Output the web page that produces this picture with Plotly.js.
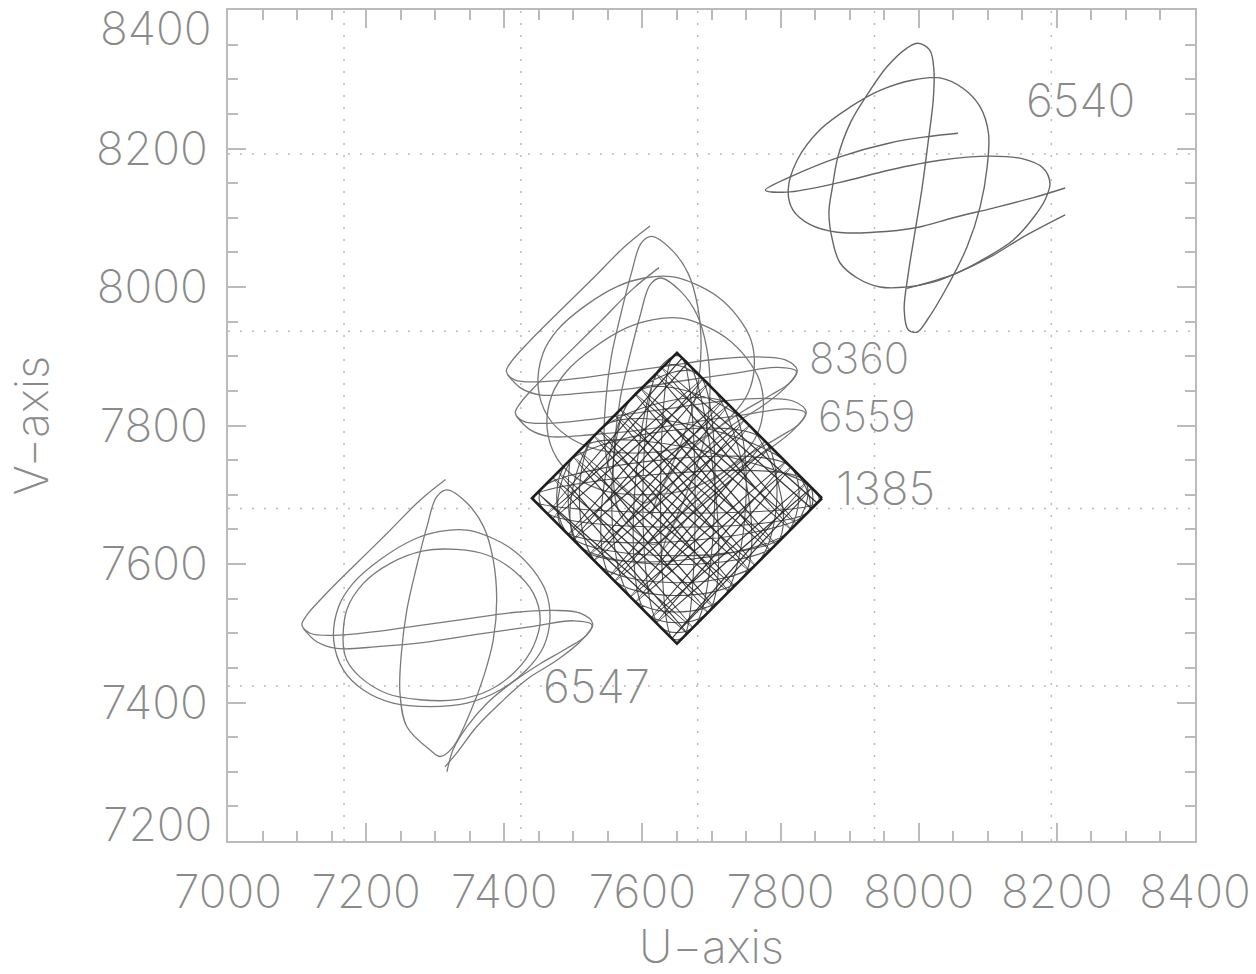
<!DOCTYPE html>
<html>
<head>
<meta charset="utf-8">
<script src="https://cdn.plot.ly/plotly-3.0.1.min.js"></script>
<style>html,body{margin:0;padding:0;background:#fff;}#chart{width:1256px;height:974px;}</style>
</head>
<body>
<div id="chart"></div>
<script>
// ---- axis ticks and grid (data units) ----
const xTicks = [7000, 7200, 7400, 7600, 7800, 8000, 8200, 8400];
const yTicks = [7200, 7400, 7600, 7800, 8000, 8200, 8400];
const gridU = [7168, 7424, 7680, 7936, 8192];
const gridV = [7424, 7680, 7936, 8192];

// ---- orbit 6540 ----
const u6540a = [8212,8151,8103,8055,8021,7983,7944,7911,7886,7875,7870,7875,7883,7901,7925,7954,7983,7999,8016,8022,8021,8014,8005,7995,7985,7979,7985,7998,8012,8041,8070,8089,8099,8101,8089,8064,8031,7992,7944,7901,7857,7824,7811,7818,7843,7882,7934,7998,8050,8108,8166,8212];
const v6540a = [8104,8072,8043,8020,8007,8000,8000,8013,8035,8068,8107,8144,8188,8237,8277,8318,8345,8352,8342,8313,8270,8212,8144,8082,8020,7967,7938,7935,7952,8000,8058,8116,8173,8222,8260,8287,8302,8299,8284,8260,8227,8183,8140,8111,8090,8079,8079,8086,8100,8114,8129,8143];
const u6540b = [8057,8012,7958,7886,7814,7778,7809,7886,7958,8031,8103,8151,8180,8190,8183,8166,8137,8097,8055,7983];
const v6540b = [8222,8217,8208,8188,8159,8140,8137,8151,8169,8183,8189,8185,8172,8150,8126,8100,8068,8042,8020,7998];

// ---- orbit 6547 ----
const u6547a = [7315,7278,7230,7181,7138,7114,7107,7119,7153,7210,7268,7341,7413,7471,7510,7528,7519,7490,7452,7413,7375,7346,7326,7317];
const v6547a = [7722,7692,7644,7596,7553,7526,7512,7500,7497,7502,7510,7520,7530,7533,7529,7514,7497,7478,7456,7430,7399,7365,7332,7300];
const u6547b = [7153,7160,7181,7220,7268,7307,7346,7379,7413,7442,7461,7466,7457,7432,7394,7346,7293,7239,7196,7167,7153];
const v6547b = [7490,7538,7572,7606,7635,7647,7649,7639,7620,7591,7558,7519,7481,7447,7418,7399,7394,7399,7418,7447,7490];
const u6547c = [7317,7346,7370,7384,7389,7384,7370,7350,7326,7307,7293,7259,7249,7251,7259,7273,7288,7302,7317];
const v6547c = [7707,7688,7654,7606,7548,7490,7437,7384,7336,7322,7331,7365,7413,7471,7534,7596,7654,7697,7707];
const u6547d = [7109,7128,7157,7220,7293,7365,7442,7500,7527,7510,7476,7432,7394,7360,7331,7314];
const v6547d = [7507,7488,7478,7481,7488,7499,7510,7518,7512,7488,7461,7433,7399,7365,7327,7307];
const u6547f = [7167,7172,7196,7235,7283,7331,7375,7413,7442,7452,7442,7418,7379,7331,7278,7230,7191,7172,7167];
const v6547f = [7481,7534,7572,7601,7619,7621,7613,7591,7558,7519,7481,7447,7418,7404,7404,7413,7437,7461,7481];

// ---- orbit 8360 ----
const u8360a = [7611,7574,7526,7477,7434,7410,7403,7415,7449,7506,7564,7637,7709,7767,7806,7824,7815,7786,7748,7709,7671,7642,7622,7613];
const v8360a = [8088,8058,8010,7962,7919,7892,7878,7866,7863,7868,7876,7886,7896,7899,7895,7880,7863,7844,7822,7796,7765,7731,7698,7666];
const u8360b = [7449,7456,7477,7516,7564,7603,7642,7675,7709,7738,7757,7762,7753,7728,7690,7642,7589,7535,7492,7463,7449];
const v8360b = [7856,7904,7938,7972,8001,8013,8015,8005,7986,7957,7924,7885,7847,7813,7784,7765,7760,7765,7784,7813,7856];
const u8360c = [7613,7642,7666,7680,7685,7680,7666,7646,7622,7603,7589,7555,7545,7547,7555,7569,7584,7598,7613];
const v8360c = [8073,8054,8020,7972,7914,7856,7803,7750,7702,7688,7697,7731,7779,7837,7900,7962,8020,8063,8073];
const u8360d = [7405,7424,7453,7516,7589,7661,7738,7796,7823,7806,7772,7728,7690,7656,7627,7610];
const v8360d = [7873,7854,7844,7847,7854,7865,7876,7884,7878,7854,7827,7799,7765,7731,7693,7673];

// ---- orbit 6559 ----
const u6559a = [7624,7587,7539,7490,7447,7423,7416,7428,7462,7519,7577,7650,7722,7780,7819,7837,7828,7799,7761,7722,7684,7655,7635,7626];
const v6559a = [8028,7998,7950,7902,7859,7832,7818,7806,7803,7808,7816,7826,7836,7839,7835,7820,7803,7784,7762,7736,7705,7671,7638,7606];
const u6559b = [7462,7469,7490,7529,7577,7616,7655,7688,7722,7751,7770,7775,7766,7741,7703,7655,7602,7548,7505,7476,7462];
const v6559b = [7796,7844,7878,7912,7941,7953,7955,7945,7926,7897,7864,7825,7787,7753,7724,7705,7700,7705,7724,7753,7796];
const u6559c = [7626,7655,7679,7693,7698,7693,7679,7659,7635,7616,7602,7568,7558,7560,7568,7582,7597,7611,7626];
const v6559c = [8013,7994,7960,7912,7854,7796,7743,7690,7642,7628,7637,7671,7719,7777,7840,7902,7960,8003,8013];
const u6559d = [7418,7437,7466,7529,7602,7674,7751,7809,7836,7819,7785,7741,7703,7669,7640,7623];
const v6559d = [7813,7794,7784,7787,7794,7805,7816,7824,7818,7794,7767,7739,7705,7671,7633,7613];

// ---- orbit 1385 (diamond) ----
const u1385edge = [7860,7650,7440,7650,7860];
const v1385edge = [7695,7905,7695,7485,7695];
const u1385a = [7845,7840,7460,7455, 7815,7805,7495,7490, 7775,7765,7535,7530, 7725,7715,7585,7580, 7680,7675,7625,7620, 7655,7660,7643,7645, 7670,7695,7605,7630, 7705,7745,7555,7595, 7755,7795,7505,7545, 7805,7840,7485,7515, 7840,7855,7445,7445, 7835,7810,7515,7495];
const v1385a = [7710,7675,7675,7710, 7740,7640,7640,7745, 7780,7600,7600,7785, 7830,7550,7550,7835, 7875,7510,7510,7875, 7900,7495,7493,7900, 7885,7530,7530,7885, 7850,7580,7580,7850, 7800,7630,7630,7800, 7750,7675,7650,7770, 7715,7690,7690,7700, 7720,7645,7620,7750];
const u1385zA = [7658,7463,7688,7493,7718,7523,7748,7553,7778,7583,7808,7613,7838,7643,7845,7620,7815,7590,7785,7560,7755,7530,7725,7500,7695,7470,7665];
const v1385zA = [7898,7673,7868,7643,7838,7613,7808,7583,7778,7553,7748,7523,7718,7493,7710,7515,7740,7545,7770,7575,7800,7605,7830,7635,7860,7665,7890];
const u1385zB = [7853,7628,7823,7598,7793,7568,7763,7538,7733,7508,7703,7478,7673,7448,7665,7470,7695,7500,7725,7530,7755,7560,7785,7590,7815,7620,7845];
const v1385zB = [7688,7883,7658,7853,7628,7823,7598,7793,7568,7763,7538,7733,7508,7703,7500,7725,7530,7755,7560,7785,7590,7815,7620,7845,7650,7875,7680];

// ---- orbit labels ----
const labelText = ['6540', '8360', '6559', '1385', '6547'];
const labelU = [8154, 7840, 7853, 7879, 7455];
const labelV = [8270, 7892, 7822, 7710, 7424];

function joinSegs(segs) {
  const out = [];
  segs.forEach((s, i) => { if (i) out.push(null); s.forEach(v => out.push(v)); });
  return out;
}

const FONT = 'Inter, "DejaVu Sans", sans-serif';
const FW = 200;
const FS = 46;
const TXT = '#8a8a8a';
const tf = (size) => ({family: FONT, size: size || FS, color: TXT, weight: FW});

function orbit(us, vs, color, width, shape, smooth) {
  return {
    type: 'scatter', mode: 'lines',
    x: joinSegs(us), y: joinSegs(vs),
    line: {color: color, width: width, shape: shape || 'spline', smoothing: smooth === undefined ? 1 : smooth},
    connectgaps: false, hoverinfo: 'skip'
  };
}

const traces = [
  orbit([u6547a, u6547b, u6547c, u6547d, u6547f], [v6547a, v6547b, v6547c, v6547d, v6547f], '#7a7a7a', 1.3),
  orbit([u6540a, u6540b], [v6540a, v6540b], '#666', 1.4),
  orbit([u8360a, u8360b, u8360c, u8360d], [v8360a, v8360b, v8360c, v8360d], '#777', 1.3),
  orbit([u6559a, u6559b, u6559c, u6559d], [v6559a, v6559b, v6559c, v6559d], '#777', 1.3),
  orbit([u1385a], [v1385a], 'rgba(45,45,45,0.8)', 1.1),
  orbit([u1385zA, u1385zB], [v1385zA, v1385zB], 'rgba(35,35,35,0.9)', 1.3, 'spline', 0.35),
  orbit([u1385edge], [v1385edge], '#1e1e1e', 2.6, 'linear')
];

const shapes = [];
gridU.forEach(g => shapes.push({type: 'line', xref: 'x', yref: 'paper', x0: g, x1: g, y0: 0, y1: 1, layer: 'below', line: {color: '#bbbbbb', width: 1.5, dash: '2px,10px'}}));
gridV.forEach(g => shapes.push({type: 'line', xref: 'paper', yref: 'y', x0: 0, x1: 1, y0: g, y1: g, layer: 'below', line: {color: '#bbbbbb', width: 1.5, dash: '2px,10px'}}));

// small vertical nudges keep the two stacked labels (8360, 6559) from touching
const labelShift = [0, 4, -5, 0, 0];
const labelSize = [FS, 42, 42, FS, FS];
const yEnd = [yTicks[0], yTicks[yTicks.length - 1]];
const annotations = labelText.map((t, i) => ({
  x: labelU[i], y: labelV[i], xref: 'x', yref: 'y', text: t, showarrow: false,
  xanchor: 'left', yanchor: 'middle', yshift: labelShift[i], borderpad: 0, font: tf(labelSize[i])
}));
annotations.push({x: 0, y: yEnd[0], xref: 'paper', yref: 'y', text: String(yEnd[0]), showarrow: false,
  xanchor: 'right', yanchor: 'middle', xshift: -14, yshift: 17, font: tf()});
annotations.push({x: 0, y: yEnd[1], xref: 'paper', yref: 'y', text: String(yEnd[1]), showarrow: false,
  xanchor: 'right', yanchor: 'middle', xshift: -14, yshift: -18, font: tf()});

const axisCommon = {
  showline: true, linecolor: '#bbbbbb', linewidth: 2, mirror: 'ticks',
  ticks: 'inside', ticklen: 18, tickwidth: 2, tickcolor: '#bbbbbb',
  showgrid: false, zeroline: false,
  tickfont: tf()
};

const layout = {
  width: 1256, height: 974,
  margin: {l: 228, r: 61, t: 10, b: 133},
  paper_bgcolor: '#ffffff', plot_bgcolor: '#ffffff',
  showlegend: false,
  xaxis: Object.assign({}, axisCommon, {
    range: [xTicks[0], xTicks[xTicks.length - 1]],
    tickmode: 'array', tickvals: xTicks, ticktext: xTicks.map(String),
    ticklabelstandoff: 10,
    minor: {tickmode: 'linear', tick0: xTicks[0], dtick: 50, ticks: 'inside', ticklen: 10, tickwidth: 2, tickcolor: '#bbbbbb', showgrid: false},
    title: {text: 'U−axis', font: tf(), standoff: 28}
  }),
  yaxis: Object.assign({}, axisCommon, {
    range: [yTicks[0], yTicks[yTicks.length - 1]],
    tickmode: 'array', tickvals: yTicks,
    ticktext: yTicks.map(v => (v === yEnd[0] || v === yEnd[1]) ? '' : String(v)),
    ticklabelstandoff: 9,
    minor: {tickmode: 'linear', tick0: yTicks[0], dtick: 50, ticks: 'inside', ticklen: 10, tickwidth: 2, tickcolor: '#bbbbbb', showgrid: false},
    title: {text: 'V−axis', font: tf(), standoff: 33}
  }),
  shapes: shapes,
  annotations: annotations
};

Plotly.newPlot('chart', traces, layout, {displayModeBar: false, staticPlot: true});
</script>
</body>
</html>
